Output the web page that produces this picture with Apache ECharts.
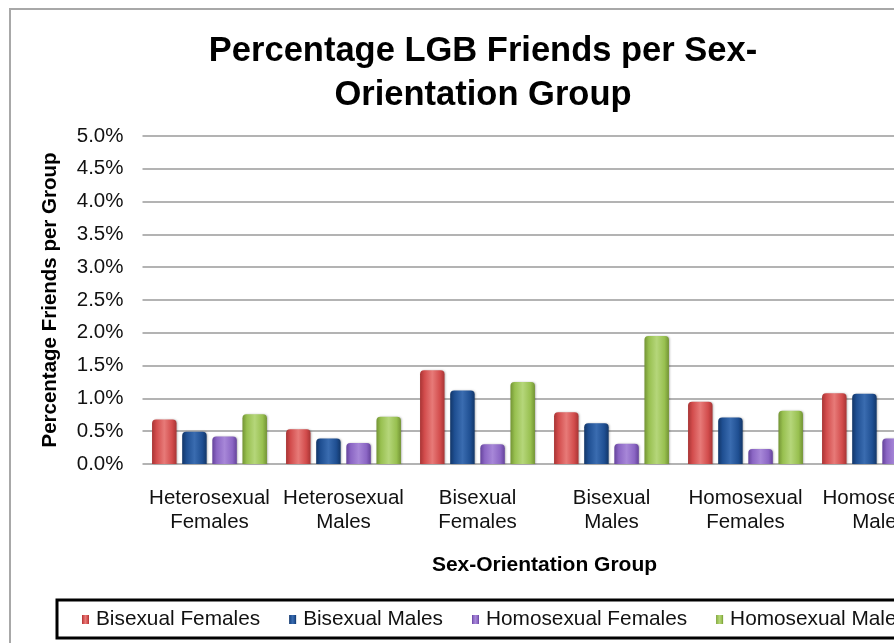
<!DOCTYPE html>
<html>
<head>
<meta charset="utf-8">
<script src="https://cdn.jsdelivr.net/npm/echarts@6/dist/echarts.min.js"></script>
<style>
html,body{margin:0;padding:0;background:#fff;overflow:hidden;width:894px;height:643px;}
#frame{position:absolute;left:9px;top:8px;width:1000px;height:700px;border-left:2px solid #a8a8a8;border-top:2px solid #a8a8a8;}
#chart{position:absolute;left:0;top:0;width:966px;height:643px;}
</style>
</head>
<body>
<div id="frame"></div>
<div id="chart"></div>
<script>
const categories = ['Heterosexual\nFemales','Heterosexual\nMales','Bisexual\nFemales','Bisexual\nMales','Homosexual\nFemales','Homosexual\nMales'];
const seriesNames = ['Bisexual Females','Bisexual Males','Homosexual Females','Homosexual Males'];
const bisexualFemales   = [0.68, 0.53, 1.43, 0.79, 0.95, 1.08];
const bisexualMales     = [0.49, 0.39, 1.12, 0.62, 0.71, 1.07];
const homosexualFemales = [0.42, 0.32, 0.30, 0.31, 0.23, 0.39];
const homosexualMales   = [0.76, 0.72, 1.25, 1.95, 0.81, 0.95];
const yTicks = [0, 5, 0.5];

const palette = [
  {dark:'#a83434', base:'#d24c4c', light:'#e77a78'},
  {dark:'#123668', base:'#1f4f92', light:'#3a6cb0'},
  {dark:'#65439b', base:'#8b66c4', light:'#a787d8'},
  {dark:'#739434', base:'#98c050', light:'#b5d67a'}
];
function grad(p){
  return new echarts.graphic.LinearGradient(0,0,1,0,[
    {offset:0,color:p.dark},{offset:0.18,color:p.base},{offset:0.5,color:p.light},{offset:0.82,color:p.base},{offset:1,color:p.dark}
  ]);
}
const dataSets = [bisexualFemales, bisexualMales, homosexualFemales, homosexualMales];
const chart = echarts.init(document.getElementById('chart'), null, {renderer:'canvas'});
const font = '"Liberation Sans", Arial, Helvetica, sans-serif';
chart.setOption({
  animation:false,
  textStyle:{fontFamily:font},
  title:{
    text:'Percentage LGB Friends per Sex-\nOrientation Group',
    left:'center', top:24,
    textStyle:{fontFamily:font, fontSize:34.5, fontWeight:'bold', color:'#000', lineHeight:44}
  },
  grid:{left:142.5, right:19.5, top:136, bottom:179, containLabel:false},
  legend:{
    data:seriesNames,
    left:57, top:600,
    orient:'horizontal',
    icon:'rect', itemWidth:7, itemHeight:9, itemGap:29,
    padding:[9,40,8,25],
    borderColor:'#000', borderWidth:3,
    textStyle:{fontFamily:font, fontSize:20.8, color:'#111', padding:[0,0,0,2]}
  },
  xAxis:{
    type:'category', data:categories,
    axisLine:{show:false}, axisTick:{show:false},
    axisLabel:{fontFamily:font, fontSize:20.5, color:'#111', margin:22, lineHeight:24, interval:0},
    name:'Sex-Orientation Group', nameLocation:'middle', nameGap:91,
    nameTextStyle:{fontFamily:font, fontSize:21, fontWeight:'bold', color:'#000'}
  },
  yAxis:{
    type:'value', min:yTicks[0], max:yTicks[1], interval:yTicks[2],
    axisLine:{show:false}, axisTick:{show:false},
    splitLine:{lineStyle:{color:'#b3b3b3', width:2}},
    axisLabel:{fontFamily:font, fontSize:20.5, color:'#111', margin:19, formatter:v=>v.toFixed(1)+'%'},
    name:'Percentage Friends per Group', nameLocation:'middle', nameRotate:90, nameGap:82,
    nameTextStyle:{fontFamily:font, fontSize:20.5, fontWeight:'bold', color:'#000'}
  },
  series: seriesNames.map((n,i)=>({
    name:n, type:'bar', data:dataSets[i],
    barWidth:24.5, barGap:'23%',
    itemStyle:{color:grad(palette[i]), borderRadius:[4,4,0,0], shadowColor:'rgba(0,0,0,0.25)', shadowBlur:2, shadowOffsetX:1, shadowOffsetY:0}
  }))
});
</script>
</body>
</html>
